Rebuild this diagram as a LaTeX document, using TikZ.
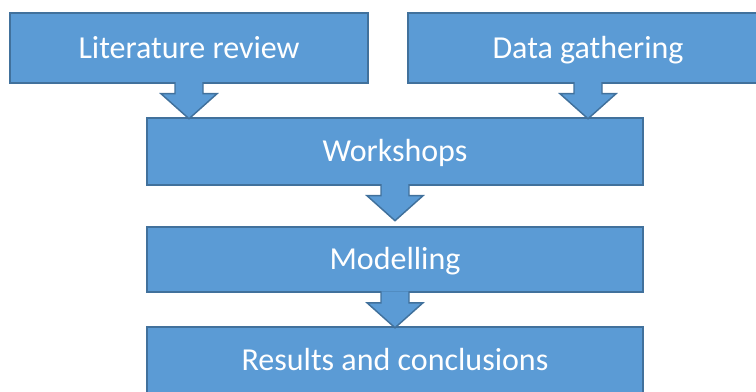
\documentclass[tikz,border=0pt]{standalone}
\usepackage{fontspec}
\setmainfont{Carlito}
\usepackage{tikz}
\usetikzlibrary{calc}
\definecolor{officeblue}{RGB}{91, 155, 213}
\definecolor{officeedge}{RGB}{65, 113, 156}

\tikzset{
    stage/.style    = {draw=officeedge, fill=officeblue, line width=1.1pt, text=white,
                       font=\fontsize{24}{28}\selectfont, inner sep=0pt,
                       text height=20.5pt, text depth=5pt},
    fatarrow/.style = {draw=officeedge, fill=officeblue, line width=1.1pt, line join=miter}
}
% block arrow hanging under a stage, 35px long
\newcommand{\stagearrow}[1]{%
    \filldraw[fatarrow] ($(#1.south)+(-14,-1.5)$) -- ++(0,11.5) -- ++(-14,0) -- ++(28,25)
        -- ++(28,-25) -- ++(-14,0) -- ++(0,-11.5);
}

\begin{document}
\begin{tikzpicture}[x=0.75pt, y=-0.75pt]
            \clip (0,0) rectangle (756,392);
            \node[stage, minimum width=268.5pt, minimum height=52.5pt] (litreview)  at (189, 48.0) {Literature review};
            \node[stage, minimum width=270.0pt, minimum height=52.5pt] (datagather) at (588, 48.0) {Data gathering};
            \node[stage, minimum width=372.0pt, minimum height=50.2pt] (workshops)  at (395,151.5) {Workshops};
            \node[stage, minimum width=372.0pt, minimum height=48.8pt] (modelling)  at (395,259.5) {Modelling};
            \node[stage, minimum width=372.0pt, minimum height=50.2pt] (results)    at (395,360.5) {Results and conclusions};
            \stagearrow{litreview}
            \stagearrow{datagather}
            \stagearrow{workshops}
            \stagearrow{modelling}
\end{tikzpicture}
\end{document}
